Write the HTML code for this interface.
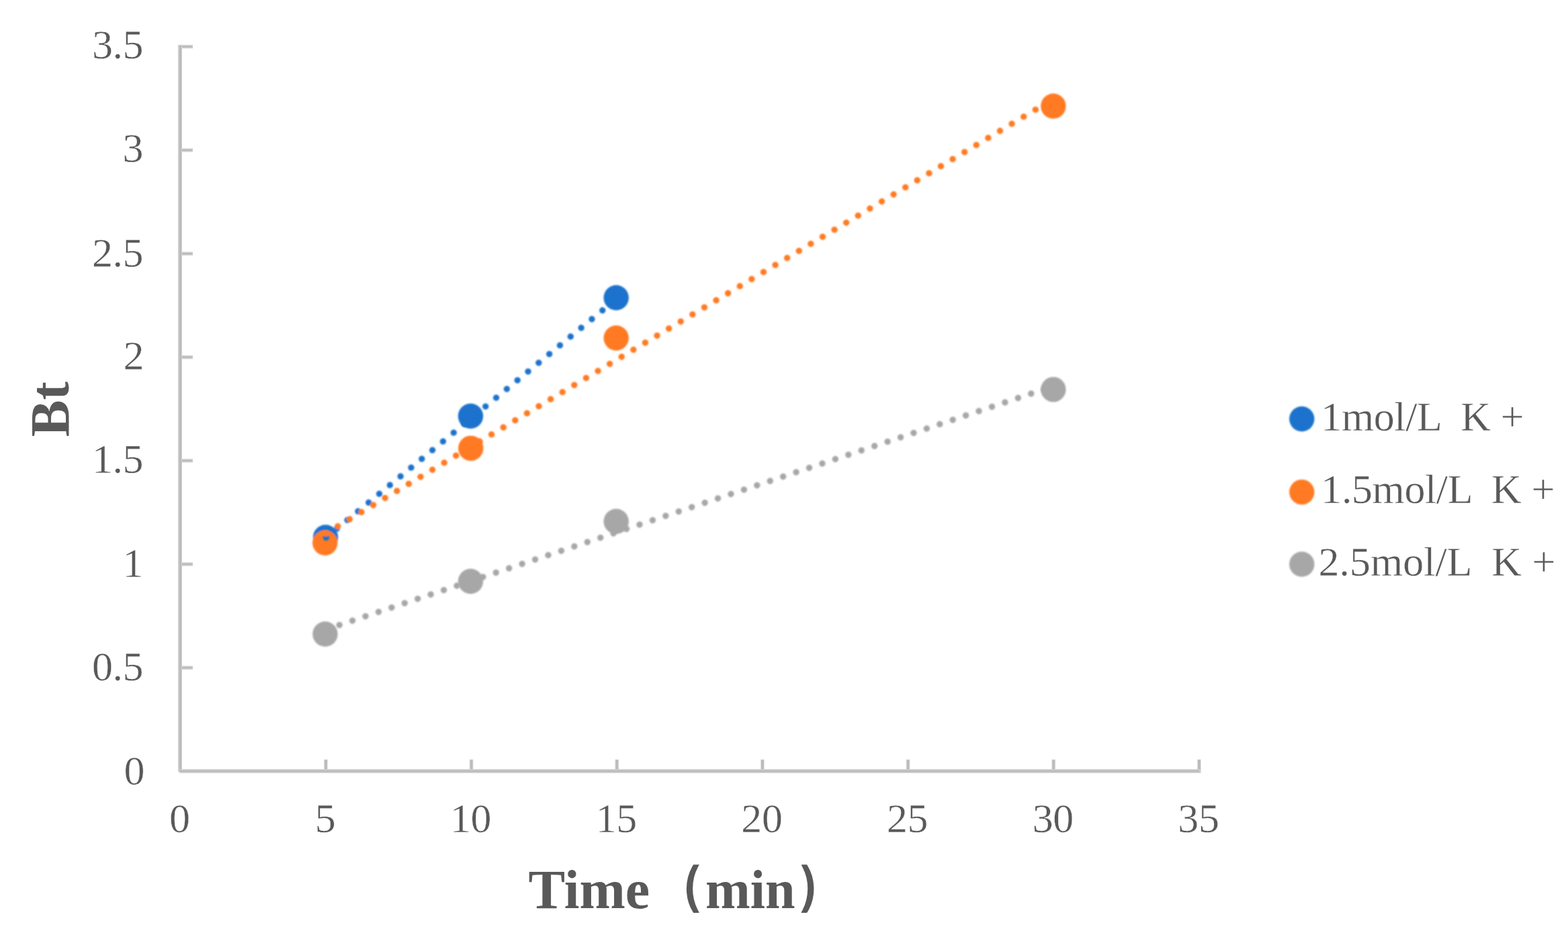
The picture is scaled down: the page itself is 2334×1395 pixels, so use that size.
<!DOCTYPE html>
<html lang="en"><head><meta charset="utf-8"><title>Bt vs Time</title>
<style>
html,body{margin:0;padding:0;background:#fff;}
body{width:2334px;height:1395px;overflow:hidden;}
svg{display:block;}
text{font-family:"Liberation Serif", "Noto Serif CJK SC", serif;fill:#595959;white-space:pre;}
.lab{font-size:62.0px;letter-spacing:-0.4px;stroke:#fff;stroke-width:0.4px;stroke-linejoin:round;}
.ttl{font-size:82px;font-weight:bold;}
.par{font-family:"Liberation Serif", "WenQuanYi Zen Hei", "Noto Sans CJK SC", serif;font-weight:normal;font-size:77px;stroke:#595959;stroke-width:5.9px;stroke-linejoin:miter;vector-effect:non-scaling-stroke;}
</style></head><body>
<svg width="2334" height="1395" viewBox="0 0 2334 1395">
<defs><filter id="soft" x="0" y="0" width="2334" height="1395" filterUnits="userSpaceOnUse"><feGaussianBlur stdDeviation="0.8"/></filter></defs>
<rect x="0" y="0" width="2334" height="1395" fill="#ffffff"/>
<g id="chart">
<g id="axes">
<rect x="268" y="991.19" width="19" height="5.8" fill="#dadada"/>
<rect x="268" y="992.69" width="18.6" height="2.8" fill="#bbbbbb"/>
<rect x="268" y="837.08" width="19" height="5.8" fill="#dadada"/>
<rect x="268" y="838.58" width="18.6" height="2.8" fill="#bbbbbb"/>
<rect x="268" y="682.97" width="19" height="5.8" fill="#dadada"/>
<rect x="268" y="684.47" width="18.6" height="2.8" fill="#bbbbbb"/>
<rect x="268" y="528.86" width="19" height="5.8" fill="#dadada"/>
<rect x="268" y="530.36" width="18.6" height="2.8" fill="#bbbbbb"/>
<rect x="268" y="374.75" width="19" height="5.8" fill="#dadada"/>
<rect x="268" y="376.25" width="18.6" height="2.8" fill="#bbbbbb"/>
<rect x="268" y="220.64" width="19" height="5.8" fill="#dadada"/>
<rect x="268" y="222.14" width="18.6" height="2.8" fill="#bbbbbb"/>
<rect x="268" y="66.53" width="19" height="5.8" fill="#dadada"/>
<rect x="268" y="68.03" width="18.6" height="2.8" fill="#bbbbbb"/>
<rect x="481.96" y="1130.6" width="6" height="16.4" fill="#e4e4e4"/>
<rect x="482.96" y="1131" width="4" height="16" fill="#bcbcbc"/>
<rect x="698.62" y="1130.6" width="6" height="16.4" fill="#e4e4e4"/>
<rect x="699.62" y="1131" width="4" height="16" fill="#bcbcbc"/>
<rect x="915.28" y="1130.6" width="6" height="16.4" fill="#e4e4e4"/>
<rect x="916.28" y="1131" width="4" height="16" fill="#bcbcbc"/>
<rect x="1131.94" y="1130.6" width="6" height="16.4" fill="#e4e4e4"/>
<rect x="1132.94" y="1131" width="4" height="16" fill="#bcbcbc"/>
<rect x="1348.60" y="1130.6" width="6" height="16.4" fill="#e4e4e4"/>
<rect x="1349.60" y="1131" width="4" height="16" fill="#bcbcbc"/>
<rect x="1565.26" y="1130.6" width="6" height="16.4" fill="#e4e4e4"/>
<rect x="1566.26" y="1131" width="4" height="16" fill="#bcbcbc"/>
<rect x="1781.92" y="1130.6" width="6" height="16.4" fill="#e4e4e4"/>
<rect x="1782.92" y="1131" width="4" height="16" fill="#bcbcbc"/>
<rect x="264.9" y="66.83" width="6.1" height="1081.97" fill="#d0d0d0"/>
<rect x="266.9" y="68.03" width="2.8" height="1080.97" fill="#b9b9b9"/>
<rect x="266.9" y="1145.1" width="1520.6" height="5.9" fill="#cecece"/>
<rect x="267" y="1147" width="1518" height="2" fill="#b8b8b8"/>
</g>
<g id="ylabels" class="lab" text-anchor="end">
<text x="215.0" y="1167.5">0</text>
<text x="213.2" y="1013.2">0.5</text>
<text x="213.2" y="858.5">1</text>
<text x="213.2" y="703.9">1.5</text>
<text x="214.0" y="550.3">2</text>
<text x="213.2" y="396.6">2.5</text>
<text x="213.2" y="240.9">3</text>
<text x="213.2" y="86.7">3.5</text>
</g>
<g id="xlabels" class="lab" text-anchor="middle">
<text x="267.3" y="1238.9">0</text>
<text x="484.0" y="1238.9">5</text>
<text x="700.6" y="1238.9">10</text>
<text x="917.3" y="1238.9">15</text>
<text x="1133.9" y="1238.9">20</text>
<text x="1350.6" y="1238.9">25</text>
<text x="1567.3" y="1238.9">30</text>
<text x="1783.9" y="1238.9">35</text>
</g>
<text id="xtitle" class="ttl" x="786.5" y="1352.3">Time<tspan class="par" x="984.3" y="1343" textLength="61.6" lengthAdjust="spacingAndGlyphs">（</tspan><tspan x="1050" y="1352.3" textLength="133.6" lengthAdjust="spacingAndGlyphs">min</tspan><tspan class="par" x="1187.6" y="1343" textLength="61.6" lengthAdjust="spacingAndGlyphs">）</tspan></text>
<text id="ytitle" class="ttl" text-anchor="middle" transform="translate(101.8 609.2) rotate(-90)">Bt</text>
<g id="markers" filter="url(#soft)">
<circle cx="484.6" cy="800.0" r="18.7" fill="#1a72cc"/>
<circle cx="700.5" cy="619.5" r="18.7" fill="#1a72cc"/>
<circle cx="917.2" cy="443.3" r="18.7" fill="#1a72cc"/>
<circle cx="483.8" cy="808.2" r="18.7" fill="#ff7a22"/>
<circle cx="700.8" cy="667.4" r="18.7" fill="#ff7a22"/>
<circle cx="917.2" cy="503.2" r="18.7" fill="#ff7a22"/>
<circle cx="1567.9" cy="158.0" r="18.7" fill="#ff7a22"/>
<circle cx="484.0" cy="944.0" r="18.7" fill="#a7a7a7"/>
<circle cx="700.5" cy="865.5" r="18.7" fill="#a7a7a7"/>
<circle cx="917.2" cy="776.3" r="18.7" fill="#a7a7a7"/>
<circle cx="1567.9" cy="579.9" r="18.7" fill="#a7a7a7"/>
</g>
<g id="trendlines" filter="url(#soft)">
<line x1="485.50" y1="800.20" x2="915.75" y2="446.46" stroke="#1a72cc" stroke-width="9.4" stroke-linecap="round" stroke-dasharray="0.01 20.468" fill="none"/>
<line x1="485.19" y1="793.96" x2="1562.43" y2="150.69" stroke="#ff7a22" stroke-width="9.4" stroke-linecap="round" stroke-dasharray="0.01 20.492" fill="none"/>
<line x1="485.77" y1="936.95" x2="1558.09" y2="578.26" stroke="#a7a7a7" stroke-width="9.4" stroke-linecap="round" stroke-dasharray="0.01 20.474" fill="none"/>
</g>
<g id="legend-keys" filter="url(#soft)">
<circle cx="1937.8" cy="623.7" r="18.7" fill="#1a72cc"/>
<circle cx="1937.8" cy="732.6" r="18.7" fill="#ff7a22"/>
<circle cx="1937.8" cy="840.0" r="18.7" fill="#a7a7a7"/>
</g>
<g id="legend" class="lab">
<text x="1966.3" y="640.6">1mol/L  K +</text>
<text x="1966.3" y="749.1">1.5mol/L  K +</text>
<text x="1962.5" y="857.4" textLength="352.5" lengthAdjust="spacing">2.5mol/L  K +</text>
</g>
</g>
</svg></body></html>
